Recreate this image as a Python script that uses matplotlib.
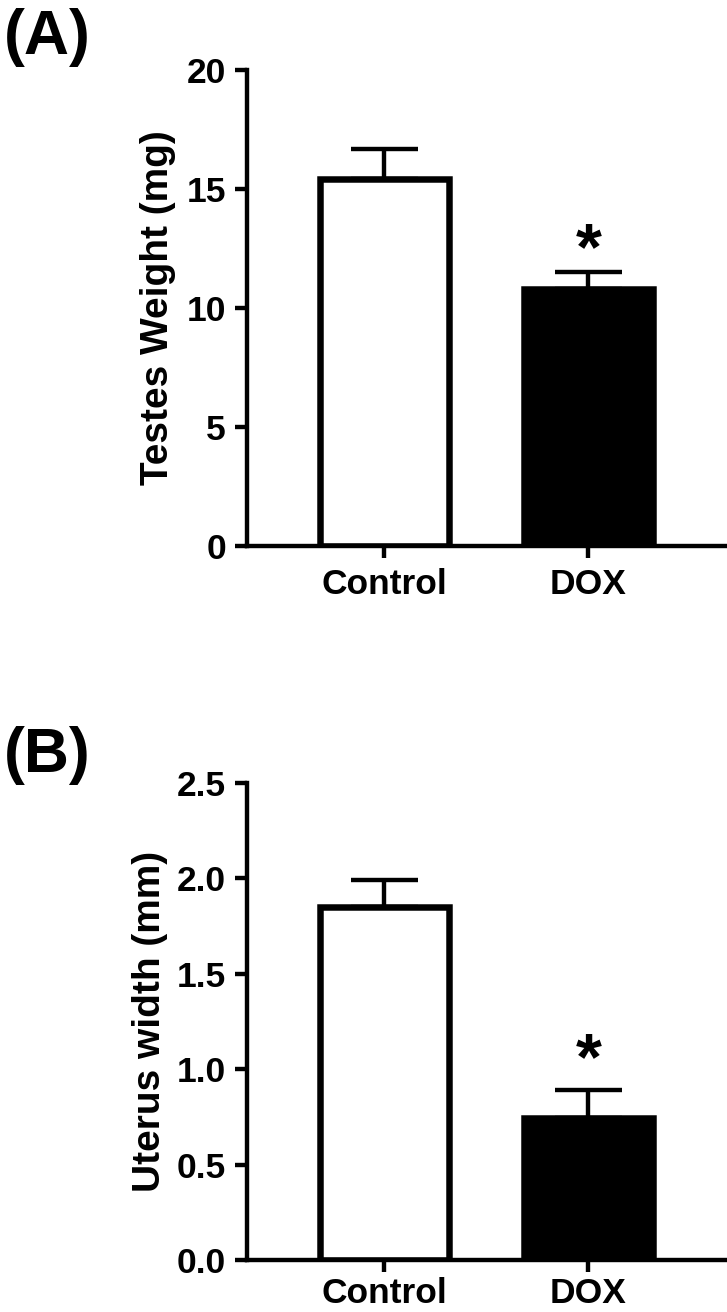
import matplotlib
matplotlib.use("Agg")
import matplotlib.pyplot as plt

plt.rcParams['font.family'] = ['Liberation Sans', 'DejaVu Sans']
plt.rcParams['font.weight'] = 'bold'

categories = ["Control", "DOX"]

testes_mean = [15.4, 10.8]
testes_err = [1.28, 0.72]

uterus_mean = [1.85, 0.745]
uterus_err = [0.14, 0.145]

fills = ["white", "black"]

W, H = 727, 1312
DPI = 100
fig = plt.figure(figsize=(W / DPI, H / DPI), dpi=DPI)

def px(v):
    return v * 72.0 / DPI

LW = px(4.4)
EDGE = px(6.5)

def make_panel(bottom_px, top_px, mean, err, ylim, yticks, yticklabels, ylabel, ylab_x, letter, letter_y, star_off, xpad):
    left = 247 / W
    ax = fig.add_axes([left, 1 - bottom_px / H, 1 - left, (bottom_px - top_px) / H])
    x = [0, 1]
    ax.bar(x, mean, width=0.63, color=fills, edgecolor="black", linewidth=EDGE, zorder=2)
    ax.errorbar(x, mean, yerr=[[0, 0], err], fmt="none", ecolor="black",
                elinewidth=LW, capsize=px(33.5), capthick=LW, zorder=3)
    ax.set_xlim(-0.674, 1.679)
    ax.set_ylim(*ylim)
    ax.set_yticks(yticks)
    ax.set_yticklabels(yticklabels, fontsize=25.5, fontweight="bold")
    ax.set_xticks(x)
    ax.set_xticklabels(categories, fontsize=25.5, fontweight="bold")
    for s in ("top", "right"):
        ax.spines[s].set_visible(False)
    for s in ("left", "bottom"):
        ax.spines[s].set_linewidth(LW)
    ax.tick_params(axis="y", direction="out", length=px(12), width=LW, pad=px(9))
    ax.tick_params(axis="x", direction="out", length=px(12), width=LW, pad=xpad)
    ax.set_ylabel(ylabel, fontsize=28, fontweight="bold", va="center", ha="center")
    ax.yaxis.set_label_coords(ylab_x, 0.5)
    # significance star above DOX error bar
    ax.annotate("*", xy=(1, mean[1] + err[1]), xytext=(0, star_off), textcoords="offset points",
                ha="center", va="center", fontsize=48, fontweight="bold")
    fig.text(4 / W, 1 - letter_y / H, letter, fontsize=45, fontweight="bold", ha="left", va="top")
    return ax

make_panel(546, 70, testes_mean, testes_err, (0, 20), [0, 5, 10, 15, 20],
           ["0", "5", "10", "15", "20"], "Testes Weight (mg)", (158 - 247) / 480, "(A)", 8, px(20), px(10))
make_panel(1260, 783, uterus_mean, uterus_err, (0, 2.5), [0, 0.5, 1.0, 1.5, 2.0, 2.5],
           ["0.0", "0.5", "1.0", "1.5", "2.0", "2.5"], "Uterus width (mm)", (150 - 247) / 480, "(B)", 726, px(28), px(5))

fig.savefig("out.png", dpi=DPI)
